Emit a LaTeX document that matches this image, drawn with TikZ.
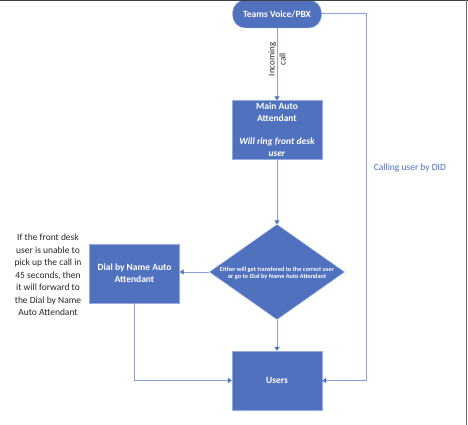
\documentclass[tikz,border=0pt]{standalone}
\usepackage{fontspec}
\setmainfont{Carlito}
\usetikzlibrary{shapes.geometric,arrows.meta}

\definecolor{boxblue}{RGB}{80,113,190}
\definecolor{rimblue}{RGB}{150,172,222}
\definecolor{wireblue}{RGB}{135,162,218}
\definecolor{didblue}{RGB}{68,114,196}
\definecolor{frameg}{RGB}{60,64,68}

\begin{document}
\begin{tikzpicture}[x=1pt, y=-1pt,
  blk/.style={rectangle, draw=rimblue, fill=boxblue, text=white, align=center,
    minimum width=90pt, minimum height=59pt, inner sep=1pt,
    font=\bfseries\fontsize{9.5}{11.7}\selectfont},
  term/.style={blk, rounded corners=13pt, minimum width=89pt, minimum height=28pt},
  dec/.style={diamond, draw=rimblue, fill=boxblue, inner sep=0pt,
    minimum width=135pt, minimum height=95pt},
  link/.style={draw=wireblue, line width=1pt,
    -{Triangle[width=5pt,length=4pt,color=boxblue]}},
  note/.style={align=center, text=black!85, font=\fontsize{9.5}{12.5}\selectfont}
]
\useasboundingbox (0,0) rectangle (468,425);

% boxes
\node[term] (pbx) at (277,14) {Teams Voice/PBX};
\node[blk] (main) at (277,130) {Main Auto\\Attendant\\[11.7pt]\textit{Will ring front desk}\\\textit{user}};
\node[dec, label={[text=white, align=center, yshift=-1.5pt, font=\bfseries\fontsize{6.3}{7.5}\selectfont]center:Either will get transfered to the correct user\\or go to Dial by Name Auto Attendant}] (chk) at (277,272) {};
\node[blk] (dial) at (134.5,273.5) {Dial by Name Auto\\Attendant};
\node[blk] (users) at (277,380.5) {Users};
\node[note] (why) at (48,275) {If the front desk\\user is unable to\\pick up the call in\\45 seconds, then\\it will forward to\\the Dial by Name\\Auto Attendant};
\coordinate (did) at (366,14);

% connectors
\draw[link] (pbx) -- node[pos=0.43, rotate=90, note, font=\fontsize{9}{11}\selectfont] {Incoming\\call} (main);
\draw[link] (main) -- (chk);
\draw[link] (chk.west) -- (chk.west -| dial.east);
\draw[link] (chk) -- (users);
\draw[link] (dial) |- (users);
\draw[link] (pbx.east) -- (did) |- node[pos=0.21, right=4pt, text=didblue, font=\fontsize{9.5}{11}\selectfont] {Calling user by DID} (users.east);

% screenshot edge
\draw[frameg, line width=1.3pt] (0,0.6) -- (468,0.6);
\draw[frameg!80, line width=1.3pt] (466.8,0) -- (466.8,425);
\end{tikzpicture}
\end{document}
